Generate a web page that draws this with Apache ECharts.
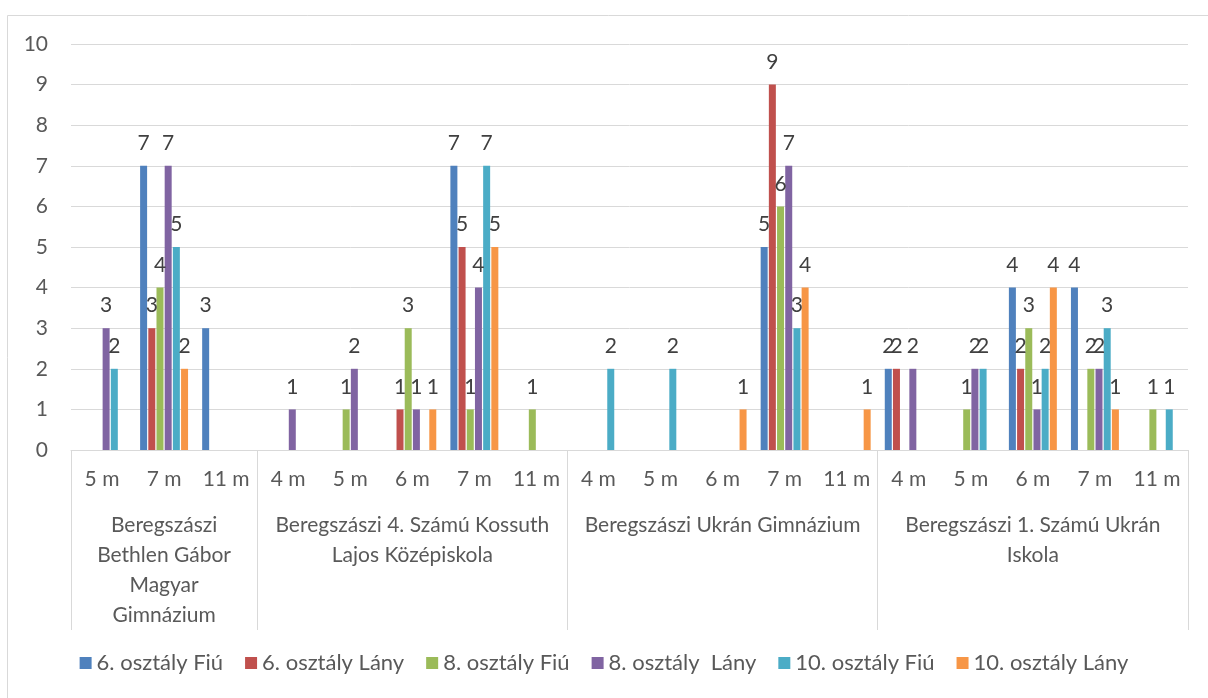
<!DOCTYPE html>
<html>
<head>
<meta charset="utf-8">
<script src="https://cdn.jsdelivr.net/npm/echarts@6/dist/echarts.min.js"></script>
<style>
  html, body { margin: 0; padding: 0; background: #fff; }
  #container { width: 1208px; height: 698px; }
</style>
</head>
<body>
<div id="container"></div>
<script>
// categories (inner level) and schools (outer level)
var categories = ['5 m', '7 m', '11 m',
    '4 m', '5 m', '6 m', '7 m', '11 m',
    '4 m', '5 m', '6 m', '7 m', '11 m',
    '4 m', '5 m', '6 m', '7 m', '11 m'];
var groupNames = ['Beregszászi\nBethlen Gábor\nMagyar\nGimnázium',
    'Beregszászi 4. Számú Kossuth\nLajos Középiskola',
    'Beregszászi Ukrán Gimnázium',
    'Beregszászi 1. Számú Ukrán\nIskola'];
var groupSizes = [3, 5, 5, 5];

var seriesNames = ['6. osztály Fiú', '6. osztály Lány', '8. osztály Fiú',
    '8. osztály  Lány', '10. osztály Fiú', '10. osztály Lány'];
var colors = ['#4F81BD', '#C0504D', '#9BBB59', '#8064A2', '#4BACC6', '#F79646'];

var fiu6  = [null, 7, 3,    null, null, null, 7, null,  null, null, null, 5, null,  2, null, 4, 4, null];
var lany6 = [null, 3, null, null, null, 1, 5, null,     null, null, null, 9, null,  2, null, 2, null, null];
var fiu8  = [null, 4, null, null, 1, 3, 1, 1,          null, null, null, 6, null,  null, 1, 3, 2, 1];
var lany8 = [3, 7, null,    1, 2, 1, 4, null,          null, null, null, 7, null,  2, 2, 1, 2, null];
var fiu10 = [2, 5, null,    null, null, null, 7, null,  2, 2, null, 3, null,     null, 2, 2, 3, 1];
var lany10 = [null, 2, null, null, null, 1, 5, null,    null, null, 1, 4, 1,     null, null, 4, 1, null];

var yTicks = [0, 10, 1]; // min, max, step

var allData = [fiu6, lany6, fiu8, lany8, fiu10, lany10];
var font = 'Lato';
var fs = 21;
var textColor = '#595959';
var gridColor = '#D9D9D9';

// group boundaries / centres on a 0..N value scale
var bounds = [0];
var centers = [];
for (var g = 0; g < groupSizes.length; g++) {
    centers.push(bounds[g] + groupSizes[g] / 2);
    bounds.push(bounds[g] + groupSizes[g]);
}

var series = [];
for (var i = 0; i < allData.length; i++) {
    series.push({
        name: seriesNames[i],
        type: 'bar',
        xAxisIndex: 0,
        data: allData[i],
        barWidth: 7,
        barGap: '17%',
        itemStyle: { color: colors[i] },
        label: {
            show: true,
            position: 'top',
            distance: 12,
            fontFamily: font,
            fontSize: fs,
            color: '#404040'
        }
    });
}

var dom = document.getElementById('container');
var myChart = echarts.init(dom);
var option = {
    animation: false,
    color: colors,
    graphic: [{
        type: 'rect',
        shape: { x: 7.5, y: 15.5, width: 1300, height: 800 },
        style: { fill: 'none', stroke: gridColor, lineWidth: 1 },
        z: -1
    }],
    grid: { left: 71, right: 20, top: 44, bottom: 248 },
    legend: {
        bottom: 19,
        left: 'center',
        itemWidth: 12,
        itemHeight: 12,
        itemGap: 22,
        itemTextGap: 4,
        icon: 'rect',
        textStyle: { fontFamily: font, fontSize: 22, color: textColor },
        data: seriesNames
    },
    xAxis: [{
        type: 'category',
        data: categories,
        position: 'bottom',
        axisLine: { lineStyle: { color: gridColor } },
        axisTick: { show: false },
        axisLabel: {
            interval: 0,
            margin: 19,
            fontFamily: font,
            fontSize: fs,
            color: textColor
        }
    }, {
        type: 'value',
        position: 'bottom',
        min: 0,
        max: bounds[bounds.length - 1],
        axisLine: { show: false },
        splitLine: { show: false },
        axisTick: {
            show: true,
            customValues: bounds,
            length: 180,
            lineStyle: { color: gridColor }
        },
        axisLabel: {
            customValues: centers,
            margin: 60,
            lineHeight: 30,
            fontFamily: font,
            fontSize: fs,
            color: textColor,
            verticalAlign: 'top',
            formatter: function (value) {
                var idx = centers.indexOf(value);
                return idx >= 0 ? groupNames[idx] : '';
            }
        }
    }],
    yAxis: {
        type: 'value',
        min: yTicks[0],
        max: yTicks[1],
        interval: yTicks[2],
        axisLine: { show: false },
        axisTick: { show: false },
        axisLabel: {
            margin: 23,
            fontFamily: font,
            fontSize: fs,
            color: textColor
        },
        splitLine: { lineStyle: { color: gridColor } }
    },
    series: series
};
myChart.setOption(option, true);
</script>
</body>
</html>
